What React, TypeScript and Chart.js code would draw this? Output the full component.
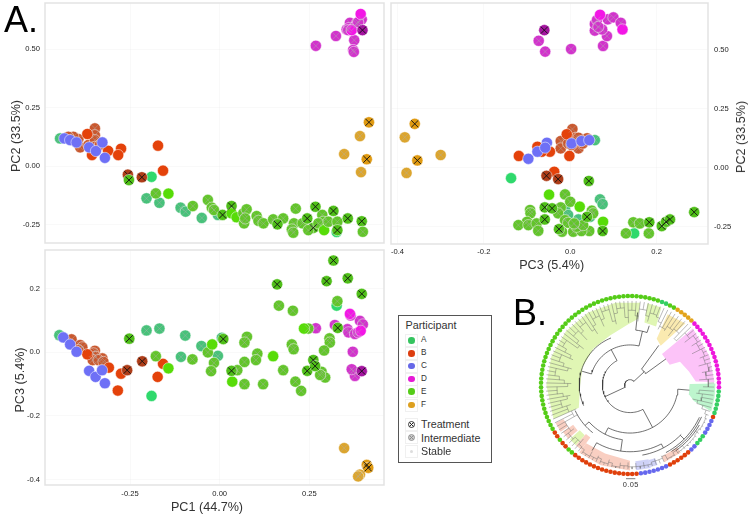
import React, { useEffect, useRef } from "react";
import { Chart, registerables } from "chart.js";

Chart.register(...registerables);

// state: 0 stable, 1 intermediate, 2 treatment
type Pt = [number, number, number];

const participants = ["A", "B", "C", "D", "E", "F"];

// ---------- PC1 / PC2 ----------
const pc1pc2_A: Pt[] = [[-.445,.118,1],[-.19,-.046,0],[-.204,-.138,1],[-.168,-.157,1],[-.109,-.178,1],[-.095,-.195,1],[-.05,-.222,1],[-.005,-.209,1],[.326,-.282,0]];
const pc1pc2_B: Pt[] = [[-.348,.161,1],[-.348,.132,1],[-.394,.115,1],[-.408,.125,1],[-.422,.125,1],[-.389,.08,1],[-.366,.09,1],[-.348,.111,1],[-.348,.082,1],[-.334,.09,1],[-.369,.137,0],[-.356,.047,0],[-.311,.065,0],[-.275,.074,0],[-.283,.047,0],[-.172,.087,0],[-.158,-.02,0],[-.256,-.037,2],[-.217,-.048,2]];
const pc1pc2_C: Pt[] = [[-.433,.118,0],[-.417,.111,0],[-.399,.101,0],[-.364,.08,0],[-.345,.064,0],[-.327,.101,0],[-.32,.035,0]];
const pc1pc2_D: Pt[] = [[.268,.514,1],[.324,.556,1],[.375,.538,1],[.372,.496,1],[.374,.488,1],[.354,.584,1],[.363,.612,1],[.382,.61,1],[.396,.627,1],[.36,.59,1],[.377,.594,1],[.386,.615,1],[.358,.581,1],[.368,.581,0],[.393,.65,0],[.398,.581,2]];
const pc1pc2_E: Pt[] = [[-.253,-.06,2],[-.178,-.117,1],[-.143,-.118,0],[-.075,-.171,1],[-.033,-.145,1],[-.022,-.178,1],[-.016,-.188,1],[.008,-.209,2],[.033,-.171,2],[.033,-.202,0],[.047,-.219,0],[.066,-.202,1],[.075,-.185,1],[.068,-.245,1],[.071,-.224,1],[.103,-.214,1],[.108,-.234,1],[.122,-.245,1],[.212,-.182,1],[.149,-.228,1],[.177,-.224,1],[.161,-.249,2],[.207,-.245,1],[.201,-.271,1],[.205,-.285,1],[.231,-.245,1],[.244,-.224,2],[.267,-.174,2],[.261,-.264,2],[.247,-.274,1],[.286,-.209,1],[.289,-.238,1],[.275,-.245,1],[.291,-.274,0],[.317,-.192,2],[.303,-.238,1],[.328,-.238,1],[.328,-.274,2],[.357,-.224,2],[.396,-.236,2],[.399,-.281,1]];
const pc1pc2_F: Pt[] = [[.416,.187,2],[.391,.128,1],[.347,.051,1],[.41,.029,2],[.394,-.026,1]];

// ---------- PC3 / PC2 ----------
const pc3pc2_A: Pt[] = [[-.137,-.044,0],[.069,-.134,1],[.075,-.154,1],[.019,-.219,1],[-.012,-.176,1],[-.005,-.2,1],[.148,-.278,0],[.057,.117,1],[.046,-.208,1]];
const pc3pc2_B: Pt[] = [[.005,.164,1],[.013,.127,1],[-.022,.113,1],[-.022,.082,1],[-.005,.103,1],[.019,.082,1],[.039,.125,1],[.003,.096,1],[.019,.127,1],[.029,.103,1],[-.008,.142,0],[-.002,.05,0],[-.076,.089,0],[-.047,.068,0],[-.119,.05,0],[-.066,.068,0],[-.037,-.017,0],[-.055,-.034,2],[-.028,-.048,2]];
const pc3pc2_C: Pt[] = [[-.097,.038,0],[-.076,.068,0],[-.054,.106,0],[-.058,.085,0],[.003,.103,0],[.026,.113,0],[.044,.117,0]];
const pc3pc2_D: Pt[] = [[-.073,.538,1],[-.058,.492,1],[.002,.503,1],[.076,.516,1],[.085,.558,1],[.057,.581,1],[.074,.586,1],[.057,.609,1],[.062,.626,1],[.087,.629,1],[.1,.637,1],[.117,.614,1],[.065,.597,1],[.069,.648,0],[.121,.586,0],[-.06,.583,2]];
const pc3pc2_E: Pt[] = [[-.012,-.113,1],[0,-.144,1],[-.093,-.179,1],[-.092,-.193,1],[-.022,-.168,1],[-.028,-.193,1],[-.1,-.229,1],[-.12,-.243,1],[-.097,-.243,1],[-.078,-.236,1],[-.074,-.267,1],[-.012,-.222,1],[-.005,-.233,1],[.05,-.182,1],[.053,-.193,1],[.044,-.268,1],[-.019,-.271,1],[.007,-.271,1],[.026,-.268,1],[.015,-.25,1],[.03,-.243,1],[.009,-.236,1],[.146,-.231,1],[.161,-.236,1],[.129,-.278,1],[.182,-.278,1],[-.049,-.114,0],[.022,-.165,0],[.076,-.229,0],[.043,-.056,2],[-.059,-.168,2],[-.042,-.172,2],[-.059,-.219,2],[.039,-.208,2],[.075,-.268,2],[-.026,-.26,2],[.183,-.231,2],[.212,-.247,2],[.222,-.229,2],[.231,-.219,2],[.287,-.188,2]];
const pc3pc2_F: Pt[] = [[-.36,.186,2],[-.383,.129,1],[-.3,.054,1],[-.354,.031,2],[-.379,-.022,1]];

// ---------- PC1 / PC3 ----------
const pc1pc3_A: Pt[] = [[-.447,.054,1],[-.204,.069,1],[-.168,.075,1],[-.096,.053,1],[-.051,.02,1],[-.108,-.014,1],[-.005,-.011,1],[.006,.046,1],[-.19,-.137,0],[.326,.147,0]];
const pc1pc3_B: Pt[] = [[-.413,.041,1],[-.389,.023,1],[-.383,.016,1],[-.394,.007,1],[-.348,.005,1],[-.352,-.003,1],[-.346,-.014,1],[-.354,-.024,1],[-.327,-.019,1],[-.338,-.024,1],[-.324,-.03,1],[-.369,-.006,0],[-.309,-.048,0],[-.275,-.067,0],[-.158,-.036,0],[-.173,-.077,0],[-.284,-.12,0],[-.258,-.056,2],[-.216,-.028,2]];
const pc1pc3_C: Pt[] = [[-.436,.047,0],[-.417,.025,0],[-.399,.002,0],[-.364,-.058,0],[-.346,-.077,0],[-.328,-.056,0],[-.32,-.097,0]];
const pc1pc3_D: Pt[] = [[.268,.076,1],[.321,.086,1],[.391,.099,1],[.399,.088,1],[.356,.073,1],[.359,.063,1],[.377,.058,1],[.386,.063,1],[.371,.002,1],[.372,-.059,1],[.377,-.074,1],[.368,-.053,1],[.365,.116,1],[.363,.121,0],[.393,.068,0],[.396,-.059,2]];
const pc1pc3_E: Pt[] = [[.165,.147,1],[.204,.131,1],[.328,.161,1],[.247,.075,1],[.306,.044,1],[.307,.031,1],[.291,.006,1],[.201,.025,1],[.206,.01,1],[.105,-.004,1],[.101,-.024,1],[.069,-.03,1],[.076,.049,1],[.069,.031,1],[.049,-.056,1],[.069,-.1,1],[.121,-.1,1],[.177,-.056,1],[.211,-.092,1],[.227,-.121,1],[.284,-.061,1],[.294,-.079,1],[.28,-.071,1],[-.033,0,1],[-.016,-.033,1],[-.024,-.059,1],[-.178,-.012,1],[-.076,-.022,1],[.235,.075,0],[.149,-.012,0],[.035,-.092,0],[-.021,.025,0],[-.143,-.05,0],[.16,.214,2],[.317,.289,2],[.298,.224,2],[.357,.233,2],[.396,.184,2],[-.252,.043,2],[.01,.042,2],[.033,-.058,2],[.244,-.058,2],[.261,-.024,2],[.266,-.043,2],[.329,.077,2]];
const pc1pc3_F: Pt[] = [[.347,-.301,1],[.391,-.384,1],[.386,-.39,1],[.41,-.354,2],[.414,-.363,2]];

const pc1pc2 = [pc1pc2_A, pc1pc2_B, pc1pc2_C, pc1pc2_D, pc1pc2_E, pc1pc2_F];
const pc3pc2 = [pc3pc2_A, pc3pc2_B, pc3pc2_C, pc3pc2_D, pc3pc2_E, pc3pc2_F];
const pc1pc3 = [pc1pc3_A, pc1pc3_B, pc1pc3_C, pc1pc3_D, pc1pc3_E, pc1pc3_F];

const stateColors: Record<string, string[]> = {
  A: ["#2fd96c", "#47c27a", "#3cb860"],
  B: ["#e4420a", "#c9582e", "#ae3d18"],
  C: ["#6e70f6", "#7274ee", "#5a5cd8"],
  D: ["#f316e6", "#d233cc", "#a414a0"],
  E: ["#57dc08", "#62c52a", "#4fbf18"],
  F: ["#e6a316", "#dca52d", "#e09a10"],
};
const legendColors = ["#35c45f", "#dd3d0f", "#6668e8", "#e61ad6", "#55cc18", "#dda020"];
const tipColorOf: Record<string, string> = { A: "#35cf63", B: "#e0400c", C: "#6668ee", D: "#ee18dc", E: "#55cc18", F: "#e2a31c" };

// ---------- Tree (panel B), angles in degrees, radii as a share of the tip circle ----------
const tipRuns: [string, number][] = [["A",6],["B",1],["C",4],["A",3],["C",2],["B",6],["C",7],["B",16],["E",2],["B",2],["E",1],["B",2],["E",50],["A",2],["E",2],["F",5],["D",17]];
const tipInner = [
  .78,.75,.82,.72,.78,.85,
  .9,
  .92,.93,.93,.92,
  .9,.92,.93,
  .93,.93,
  .9,.93,.9,.9,.93,.88,
  .87,.9,.87,.9,.92,.88,.92,
  .88,.92,.87,.91,.88,.93,.9,.87,.92,.89,.87,.91,.86,.92,.89,.88,
  .8,.85,
  .85,.88,
  .8,
  .84,.84,
  .68,.72,.66,.75,.7,.8,.72,.68,.76,.82,.7,.66,.74,.8,.85,.72,.68,.78,.84,.7,.74,.82,.87,.72,.66,.76,.84,.7,.8,.86,.74,.68,.78,.85,.72,.8,.88,.74,.7,.82,.87,.76,.7,.84,.78,.72,.86,.8,.74,.84,
  .82,.78,
  .7,.74,
  .72,.78,.7,.8,.72,
  .72,.85,.78,.9,.82,.88,.78,.9,.84,.88,.8,.9,.82,.86,.78,.88,.82,
];
const treeArcs: [number, number, number][] = [[.06,43,205],[.22,36,54],[.31,118,298],[.45,77,164],[.54,243,355],[.62,222,262],[.68,205,232],[.75,240,298],[.8,280,316],[.62,72,84],[.57,112,204],[.86,298,335],[.88,302,336],[.9,305,330]];
const treeRadials: [number, number, number][] = [[205,.06,.31],[43,.06,.22],[54,.22,.55],[36,.22,.5],[118,.31,.45],[164,.45,.56],[77,.45,.62],[298,.31,.54],[243,.54,.62],[355,.54,.67],[222,.62,.68],[262,.62,.75],[298,.75,.8],[315,.8,.86],[84,.62,.82],[72,.62,.7],[240,.75,.85]];
const shadeE1: [number, number][] = [[204,.63],[180,.56],[159,.57],[135,.58],[112,.6],[92,.68],[83,.75],[83,.93],[100,.94],[120,.94],[140,.94],[160,.94],[180,.94],[204,.94]];
const shadeE2: [number, number][] = [[77,.72],[66,.72],[68,.94],[78,.94]];
const shadeE3: [number, number][] = [[222,.76],[228,.76],[228,.91],[222,.91]];
const shadeF: [number, number][] = [[60,.6],[52,.56],[48,.93],[62,.9]];
const shadeD: [number, number][] = [[44,.5],[27,.5],[25,.62],[13,.68],[3,.74],[2,.95],[20,.95],[42,.95]];
const shadeA: [number, number][] = [[1,.67],[-9,.67],[-14,.74],[-18,.96],[-8,.96],[1,.96]];
const shadeB1: [number, number][] = [[233,.82],[250,.82],[270,.85],[270,.96],[250,.96],[233,.95]];
const shadeB2: [number, number][] = [[207,.84],[214,.84],[214,.94],[207,.94]];
const shadeB3: [number, number][] = [[215,.78],[221,.78],[221,.92],[215,.92]];
const shadeB4: [number, number][] = [[228,.74],[233,.74],[233,.91],[228,.91]];
const shadeB5: [number, number][] = [[-66,.88],[-53,.88],[-53,.95],[-66,.95]];
const shadeC1: [number, number][] = [[-86,.86],[-76,.86],[-76,.96],[-86,.96]];
const shadeC2: [number, number][] = [[-76,.87],[-71,.87],[-71,.95],[-76,.95]];
const shades: [[number, number][], string][] = [
  [shadeE1, "#e0f6b4"],[shadeE2, "#e0f6b4"],[shadeE3, "#e0f6b4"],[shadeF, "#faeab0"],[shadeD, "#fcc3f8"],[shadeA, "#bdf5cd"],
  [shadeB1, "#f9cfc2"],[shadeB2, "#f9cfc2"],[shadeB3, "#f9cfc2"],[shadeB4, "#f9cfc2"],[shadeB5, "#f9cfc2"],[shadeC1, "#cfd2f7"],[shadeC2, "#cfd2f7"],
];
const treeScaleBar: [number, number][] = [[-.045,-1.053],[.06,-1.053]];

const FONT = "'Liberation Sans', Arial, sans-serif";
const polar = (deg: number, r: number) => ({ x: r * Math.cos((deg * Math.PI) / 180), y: r * Math.sin((deg * Math.PI) / 180) });

const framePlugin = {
  id: "frame",
  beforeDatasetsDraw(c: any) {
    if (!c.options.plugins.frame?.show) return;
    const { left, top, width, height } = c.chartArea;
    const g = c.ctx;
    g.save();
    g.strokeStyle = "#e3e3e3";
    g.lineWidth = 1.5;
    g.strokeRect(left, top, width, height);
    g.restore();
  },
};

function fixed(size: number) {
  return (s: any) => {
    if (s.isHorizontal()) s.height = size;
    else s.width = size;
    s.paddingTop = s.paddingBottom = s.paddingLeft = s.paddingRight = 0;
  };
}

function scatterDatasets(groups: Pt[][]) {
  const out: any[] = [];
  groups.forEach((pts, gi) => {
    const name = participants[gi];
    const colors = stateColors[name];
    out.push({
      label: name,
      data: pts.map(([x, y]) => ({ x, y })),
      pointRadius: 5.6,
      pointBorderWidth: 1,
      pointBorderColor: "rgba(255,255,255,0.5)",
      pointBackgroundColor: pts.map((p) => colors[p[2]]),
    });
    out.push({
      label: name + " intermediate",
      data: pts.filter((p) => p[2] === 1).map(([x, y]) => ({ x, y })),
      pointStyle: "crossRot",
      pointRadius: 5,
      pointBorderWidth: 1,
      pointBorderColor: "rgba(175,175,175,0.4)",
    });
    out.push({
      label: name + " treatment",
      data: pts.filter((p) => p[2] === 2).map(([x, y]) => ({ x, y })),
      pointStyle: "crossRot",
      pointRadius: 5,
      pointBorderWidth: 0.9,
      pointBorderColor: "#111",
    });
  });
  out.forEach((d, i) => (d.order = -i));
  return out;
}

const tickFont = { family: FONT, size: 7.6 };

function axis(opts: any) {
  const { min, max, step, digits, position, size, hideTicks, padding } = opts;
  return {
    type: "linear",
    position,
    min,
    max,
    afterFit: fixed(size),
    border: { display: false },
    grid: { color: "rgba(0,0,0,0.025)", drawTicks: false, lineWidth: 1 },
    ticks: {
      display: !hideTicks,
      stepSize: step,
      includeBounds: false,
      padding,
      color: "#222",
      font: tickFont,
      maxRotation: 0,
      callback: (v: any) => Number(v).toFixed(digits),
    },
  };
}

function panelConfig(groups: Pt[][], x: any, y: any, padding: any) {
  return {
    type: "scatter",
    data: { datasets: scatterDatasets(groups) },
    options: {
      responsive: false,
      animation: false,
      events: [],
      layout: { padding, autoPadding: false },
      scales: { x: axis(x), y: axis(y) },
      plugins: { legend: { display: false }, tooltip: { enabled: false }, frame: { show: true } },
    },
    plugins: [framePlugin],
  };
}

function treeConfig() {
  const datasets: any[] = [];
  shades.forEach(([poly, color]) => {
    datasets.push({
      label: "clade",
      data: poly.map(([a, r]) => polar(a, r)),
      showLine: true,
      fill: "shape",
      backgroundColor: color,
      borderWidth: 0,
      borderColor: color,
      pointRadius: 0,
    });
  });
  const step = 360 / tipInner.length;
  const tipAngle = (i: number) => -(i + 1.5) * step;
  const gap = { x: NaN, y: NaN };
  const skeleton: any[] = [];
  const comb: any[] = [];
  treeArcs.forEach(([r, a1, a2]) => {
    for (let a = a1; a < a2; a += 3) skeleton.push(polar(a, r));
    skeleton.push(polar(a2, r), gap);
  });
  treeRadials.forEach(([a, r1, r2]) => skeleton.push(polar(a, r1), polar(a, r2), gap));
  tipInner.forEach((r, i) => {
    comb.push(polar(tipAngle(i), r), polar(tipAngle(i), 0.945), gap);
    if (i + 1 < tipInner.length) {
      const rr = Math.max(r, tipInner[i + 1]);
      comb.push(polar(tipAngle(i), rr), polar(tipAngle(i + 1), rr), gap);
    }
  });
  datasets.push({ label: "tip branches", data: comb, showLine: true, borderColor: "#666", borderWidth: 0.45, pointRadius: 0, spanGaps: false });
  datasets.push({ label: "branches", data: skeleton, showLine: true, borderColor: "#333", borderWidth: 0.7, pointRadius: 0, spanGaps: false });
  const tips: any[] = [];
  const tipColors: string[] = [];
  let idx = 0;
  tipRuns.forEach(([name, count]) => {
    for (let k = 0; k < count; k++) {
      tips.push(polar(tipAngle(idx), 1));
      tipColors.push(tipColorOf[name]);
      idx++;
    }
  });
  datasets.push({ label: "tips", data: tips, pointRadius: 2.3, pointBorderWidth: 0, pointBackgroundColor: tipColors });
  datasets.push({ label: "scale", data: treeScaleBar.map(([x, y]) => ({ x, y })), showLine: true, borderColor: "#444", borderWidth: 0.7, pointRadius: 0 });
  datasets.forEach((d, i) => (d.order = -i));
  const hidden = { display: false, min: -1.18, max: 1.18 };
  return {
    type: "scatter",
    data: { datasets },
    options: {
      responsive: false,
      animation: false,
      events: [],
      layout: { padding: 0, autoPadding: false },
      scales: { x: hidden, y: hidden },
      plugins: { legend: { display: false }, tooltip: { enabled: false } },
    },
  };
}

function ChartBox({ config, left, top, width, height }: any) {
  const ref = useRef<HTMLCanvasElement | null>(null);
  useEffect(() => {
    const chart = new Chart(ref.current as any, config());
    return () => chart.destroy();
  }, []);
  return <canvas ref={ref} width={width} height={height} style={{ position: "absolute", left, top, width, height, display: "block" }} />;
}

function Caption({ text, cx, cy, rotate }: { text: string; cx: number; cy: number; rotate?: boolean }) {
  return (
    <div
      style={{
        position: "absolute",
        left: cx,
        top: cy,
        transform: `translate(-50%,-50%)${rotate ? " rotate(-90deg)" : ""}`,
        font: `12.6px ${FONT}`,
        color: "#333",
        whiteSpace: "nowrap",
      }}
    >
      {text}
    </div>
  );
}

function Big({ text, left, top }: any) {
  return <div style={{ position: "absolute", left, top, font: `36px/36px ${FONT}`, color: "#000" }}>{text}</div>;
}

const legendRowY = [340.3, 353.3, 366, 379, 391.7, 405];
const markerRows: [string, number, string, string, number][] = [
  ["Treatment", 424.3, "#333", "#111", 3],
  ["Intermediate", 437.7, "#ccc", "#888", 3],
  ["Stable", 451.3, "#ddd", "none", 1.5],
];

function Legend() {
  return (
    <>
      <div style={{ position: "absolute", left: 398, top: 315, width: 92, height: 146, border: "1.3px solid #555", boxSizing: "content-box" }} />
      <div style={{ position: "absolute", left: 405.5, top: 317.5, font: `10.8px/14px ${FONT}`, color: "#333" }}>Participant</div>
      {participants.map((p, i) => (
        <React.Fragment key={p}>
          <div style={{ position: "absolute", left: 405, top: legendRowY[i] - 6.5, width: 13, height: 13, boxSizing: "border-box", border: "1px solid #f0f0f0" }} />
          <div style={{ position: "absolute", left: 408.2, top: legendRowY[i] - 3.3, width: 6.6, height: 6.6, borderRadius: "50%", background: legendColors[i] }} />
          <div style={{ position: "absolute", left: 421, top: legendRowY[i] - 6, font: `8.2px/12px ${FONT}`, color: "#333" }}>{p}</div>
        </React.Fragment>
      ))}
      {markerRows.map(([label, y, fill, cross, rad]) => (
        <React.Fragment key={label}>
          <div style={{ position: "absolute", left: 405, top: y - 6.5, width: 13, height: 13, boxSizing: "border-box", border: "1px solid #f0f0f0" }} />
          <svg width={13} height={13} style={{ position: "absolute", left: 405, top: y - 6.5 }}>
            <circle cx={6.5} cy={6.5} r={rad} fill={label === "Treatment" ? "none" : fill} stroke={label === "Stable" ? "none" : cross} strokeWidth={0.8} />
            {cross !== "none" && (
              <path d="M4.6 4.6L8.4 8.4M8.4 4.6L4.6 8.4" stroke={cross} strokeWidth={0.9} />
            )}
          </svg>
          <div style={{ position: "absolute", left: 421, top: y - 7, font: `10.7px/14px ${FONT}`, color: "#333", whiteSpace: "nowrap" }}>{label}</div>
        </React.Fragment>
      ))}
    </>
  );
}

export default function App() {
  const pc1 = { min: -0.487, max: 0.458, step: 0.25, digits: 2 };
  return (
    <div style={{ position: "absolute", left: 0, top: 0, width: 750, height: 516, overflow: "hidden", background: "#fff", filter: "blur(0.3px)" }}>
      <ChartBox
        left={0}
        top={0}
        width={390}
        height={250}
        config={() =>
          panelConfig(
            pc1pc2,
            { ...pc1, position: "bottom", size: 0, hideTicks: true, padding: 0 },
            { min: -0.329, max: 0.697, step: 0.25, digits: 2, position: "left", size: 45, padding: 5 },
            { top: 3, right: 6, bottom: 7, left: 0 }
          )
        }
      />
      <ChartBox
        left={388}
        top={0}
        width={362}
        height={262}
        config={() =>
          panelConfig(
            pc3pc2,
            { min: -0.415, max: 0.319, step: 0.2, digits: 1, position: "bottom", size: 18, padding: 3 },
            { min: -0.323, max: 0.698, step: 0.25, digits: 2, position: "right", size: 42, padding: 6 },
            { top: 3, right: 0, bottom: 0, left: 3 }
          )
        }
      />
      <ChartBox
        left={0}
        top={248}
        width={390}
        height={268}
        config={() =>
          panelConfig(
            pc1pc3,
            { ...pc1, position: "bottom", size: 31, padding: 4 },
            { min: -0.417, max: 0.322, step: 0.2, digits: 1, position: "left", size: 45, padding: 5 },
            { top: 2, right: 6, bottom: 0, left: 0 }
          )
        }
      />
      <ChartBox left={525} top={280} width={210} height={210} config={treeConfig} />
      <Caption text="PC2 (33.5%)" cx={15.5} cy={136} rotate />
      <Caption text="PC2 (33.5%)" cx={741} cy={137} rotate />
      <Caption text="PC3 (5.4%)" cx={551.7} cy={265} />
      <Caption text="PC3 (5.4%)" cx={20} cy={380} rotate />
      <Caption text="PC1 (44.7%)" cx={207} cy={507} />
      <Big text="A." left={4} top={2} />
      <Big text="B." left={513} top={295} />
      <div style={{ position: "absolute", left: 630.7, top: 484, transform: "translate(-50%,-50%)", font: `7.4px ${FONT}`, letterSpacing: "0.4px", color: "#333" }}>0.05</div>
      <Legend />
    </div>
  );
}
